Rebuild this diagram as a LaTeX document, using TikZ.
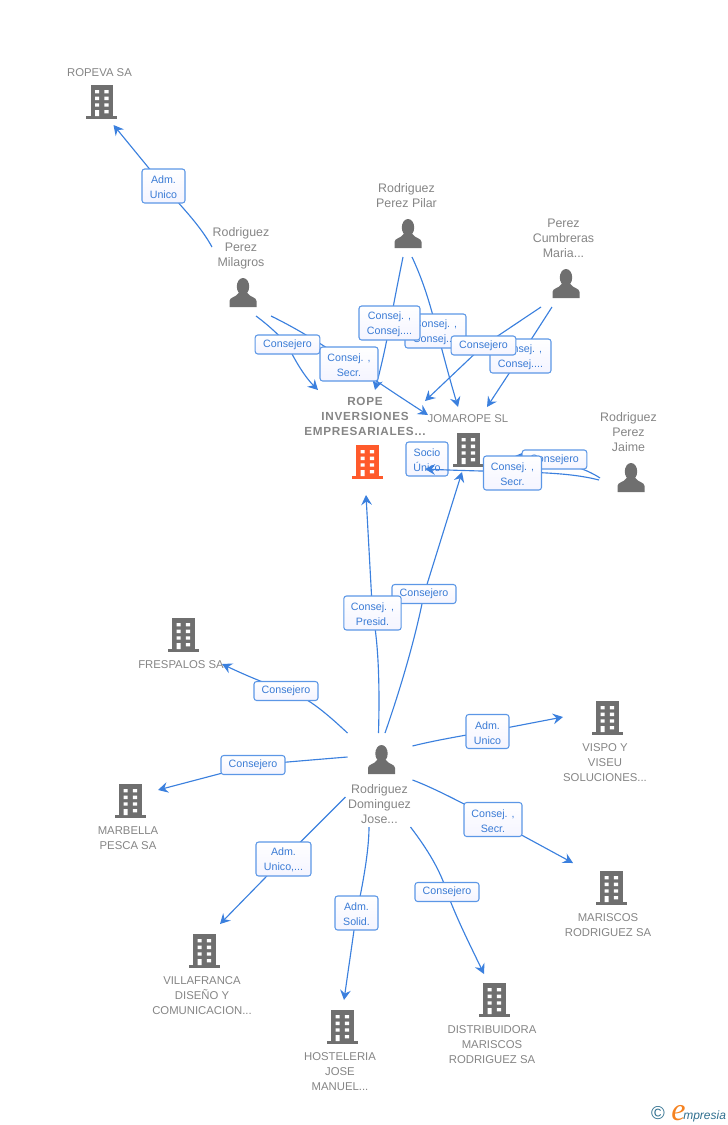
\documentclass[tikz,border=0pt]{standalone}
\usepackage{fontspec}
\setmainfont{Liberation Sans}
\newfontfamily\logofont{Liberation Serif}
\usetikzlibrary{arrows.meta,calc,shadings}
\definecolor{linkblue}{HTML}{3B80DE}
\definecolor{labelblue}{HTML}{3A7BD5}
\definecolor{boxedge}{HTML}{5C97E6}
\definecolor{namegrey}{HTML}{858585}
\definecolor{icongrey}{HTML}{6F6F6F}
\definecolor{mainorange}{HTML}{FF5A2B}
\definecolor{logoteal}{HTML}{2F6F8F}
\definecolor{logoorange}{HTML}{F58220}
\newcommand\topstrut{\rule{0pt}{7.6pt}}
\tikzset{
  x=0.75pt,y=-0.75pt,
  link/.style={draw=linkblue,line width=0.85pt,-{Stealth[length=7.5pt,width=8pt,inset=2.6pt]}},
  lbl/.style={draw=boxedge,line width=0.8pt,rounded corners=2pt,top color=white,bottom color=white!93!blue!60!white,
     text=labelblue,align=center,inner sep=0pt,font=\fontsize{8}{11.25}\selectfont},
  one/.style={lbl,minimum height=14.25pt},
  two/.style={lbl,minimum height=25.5pt},
  co/.style={text=namegrey,align=center,inner sep=0pt,font=\fontsize{8.5}{11.25}\selectfont},
  pn/.style={text=namegrey,align=center,inner sep=0pt,font=\fontsize{9.3}{11.25}\selectfont},
  icon/.style={inner sep=0pt,minimum width=23pt,minimum height=25pt},
  bldg/.pic={
    \fill (-11,-17) rectangle (11.5,15);
    \fill (-15.5,14) rectangle (15.5,17);
    \fill[white] (-6.5,-12) rectangle (-2.3,-8.7) (2.8,-12) rectangle (7,-8.7)
      (-6.5,-5.5) rectangle (-2.3,-2) (2.8,-5.5) rectangle (7,-2)
      (-6.5,1.3) rectangle (-2.3,4.7) (2.8,1.3) rectangle (7,4.7)
      (-6.5,8) rectangle (-2.3,14) (2.8,8) rectangle (7,11.3);
  },
  pers/.pic={
    \fill (0,-8.5) ellipse [x radius=6.2,y radius=8.5];
    \fill (-13.5,12) -- (13.5,12) -- (13.5,6) .. controls (13.5,2) and (7,2.5) .. (4.5,-2) -- (-4.5,-2) .. controls (-7,2.5) and (-13.5,2) .. (-13.5,6) -- cycle;
  }
}
\begin{document}
\begin{tikzpicture}
\useasboundingbox (0,0) rectangle (728,1125);
% icons
\node[icon] (ropeva) at (101.5,102) {}; \pic[icongrey] at (ropeva) {bldg};
\node[icon] (rope) at (367,462) {}; \pic[mainorange] at (rope) {bldg};
\node[icon] (joma) at (468,450) {}; \pic[icongrey] at (joma) {bldg};
\node[icon] (fres) at (183,635) {}; \pic[icongrey] at (fres) {bldg};
\node[icon] (vispo) at (607,718) {}; \pic[icongrey] at (vispo) {bldg};
\node[icon] (marb) at (130,801) {}; \pic[icongrey] at (marb) {bldg};
\node[icon] (maris) at (611,888) {}; \pic[icongrey] at (maris) {bldg};
\node[icon] (villa) at (204,951) {}; \pic[icongrey] at (villa) {bldg};
\node[icon] (host) at (342,1027) {}; \pic[icongrey] at (host) {bldg};
\node[icon] (dist) at (494,1000) {}; \pic[icongrey] at (dist) {bldg};
\node[icon] (mila) at (243,295) {}; \pic[icongrey] at (mila) {pers};
\node[icon] (pilar) at (408,236) {}; \pic[icongrey] at (pilar) {pers};
\node[icon] (maria) at (566,286) {}; \pic[icongrey] at (maria) {pers};
\node[icon] (jaime) at (631,480) {}; \pic[icongrey] at (jaime) {pers};
\node[icon] (jose) at (381.5,762) {}; \pic[icongrey] at (jose) {pers};
% names
\node[co] (t1) at (99.5,73) {ROPEVA SA};
\node[co,font=\fontsize{8.8}{11.25}\selectfont\bfseries\addfontfeature{LetterSpace=6}] (t2) at (365,416.5) {ROPE\\INVERSIONES\\EMPRESARIALES...};
\node[co] (t3) at (468,419) {JOMAROPE SL};
\node[pn] (t4) at (628.5,432.5) {Rodriguez\\Perez\\Jaime};
\node[pn] (t5) at (406.5,196) {Rodriguez\\Perez Pilar};
\node[pn] (t6) at (563.5,238.5) {Perez\\Cumbreras\\Maria...};
\node[pn] (t7) at (241,248) {Rodriguez\\Perez\\Milagros};
\node[co] (t8) at (181,665) {FRESPALOS SA};
\node[co] (t9) at (605,763) {VISPO Y\\VISEU\\SOLUCIONES...};
\node[pn] (t10) at (379.5,804.5) {Rodriguez\\Dominguez\\Jose...};
\node[co] (t11) at (128,838.5) {MARBELLA\\PESCA SA};
\node[co] (t12) at (608,925.5) {MARISCOS\\RODRIGUEZ SA};
\node[co] (t13) at (202,996) {VILLAFRANCA\\DISEÑO Y\\COMUNICACION...};
\node[co] (t14) at (340,1072) {HOSTELERIA\\JOSE\\MANUEL...};
\node[co] (t15) at (492,1045) {DISTRIBUIDORA\\MARISCOS\\RODRIGUEZ SA};
% label coordinates
\coordinate (aU) at (163.5,186);
\coordinate (c1) at (287.5,344.5);
\coordinate (cS) at (349,364);
\coordinate (cC1) at (389.5,323);
\coordinate (cC2) at (435.5,331);
\coordinate (c2) at (483.5,345.5);
\coordinate (cC3) at (520.5,356);
\coordinate (sU) at (427,459);
\coordinate (c3) at (554.5,459.5);
\coordinate (cS2) at (512.5,473);
\coordinate (c4) at (424,594);
\coordinate (cP) at (372.5,613);
\coordinate (c5) at (286,691);
\coordinate (c6) at (253,765);
\coordinate (aU2) at (487.5,731.5);
\coordinate (cS3) at (493,819.5);
\coordinate (aU3) at (283.5,859);
\coordinate (aS) at (356.5,913);
\coordinate (c7) at (447,892);
% connectors
\draw[link] ($(mila)+(-31,-48)$) .. controls (200,225) and (180,205) .. (aU) -- ($(ropeva)+(12,23)$);
\draw[link] ($(mila)+(13,21)$) .. controls (275,330) and (c1) .. (c1) .. controls (292,355) and (303,375) .. ($(rope)+(-49,-72)$);
\draw[link] ($(mila)+(28,21)$) .. controls (320,340) and (cS) .. ($(rope)+(61,-47)$);
\draw[link] ($(pilar)+(-5,21)$) .. controls (cC1) and (388,340) .. ($(rope)+(8,-72)$);
\draw[link] ($(pilar)+(4,21)$) .. controls (432,300) and (cC2) .. ($(joma)+(-10,-43)$);
\draw[link] ($(maria)+(-25,21)$) -- (c2) -- ($(rope)+(58,-61)$);
\draw[link] ($(maria)+(-14,21)$) -- (cC3) -- ($(joma)+(19,-43)$);
\node[two,minimum width=31.5pt] (nsU) at (sU) {\topstrut Socio\\Único};
\draw[link] ($(jaime)+(-32,0)$) .. controls (560,470) and (cS2) .. ($(nsU)+(-2,10)$);
\draw[link] ($(jaime)+(-31,-2)$) .. controls (585,468) and (560,460) .. ($(joma)+(47,6)$);
\draw[link] ($(jose)+(-3,-29)$) .. controls (380,680) and (378,640) .. (cP) -- ($(rope)+(-1,33)$);
\draw[link] ($(jose)+(3.5,-29)$) .. controls (400,690) and (415,640) .. (c4) -- ($(joma)+(-6,22)$);
\draw[link] ($(jose)+(-34,-29)$) .. controls (325,712) and (305,695) .. (c5) .. controls (262,682) and (245,675) .. ($(fres)+(39,29)$);
\draw[link] ($(jose)+(-34,-5)$) .. controls (310,760) and (c6) .. (c6) -- ($(marb)+(28,-11)$);
\draw[link] ($(jose)+(31,-16)$) .. controls (440,739) and (aU2) .. (aU2) -- ($(vispo)+(-44,-1)$);
\draw[link] ($(jose)+(31,18)$) .. controls (440,790) and (cS3) .. (cS3) -- ($(maris)+(-38,-25)$);
\draw[link] ($(jose)+(-36,35)$) -- (aU3) -- ($(villa)+(16,-27)$);
\draw[link] ($(jose)+(-12.5,65)$) .. controls (369,860) and (aS) .. (aS) -- ($(host)+(2,-27)$);
\draw[link] ($(jose)+(29,65)$) .. controls (428,850) and (440,870) .. (c7) .. controls (455,915) and (470,945) .. ($(dist)+(-10,-26)$);
% labels
\node[two,minimum width=32.25pt] (n1) at (aU) {\topstrut Adm.\\Unico};
\node[one,minimum width=48.5pt] (n2) at (c1) {Consejero};
\node[two,minimum width=43.5pt] (n3) at (cS) {\topstrut Consej. ,\\Secr.};
\node[two,minimum width=45.75pt] (n5) at (cC2) {\topstrut Consej. ,\\Consej....};
\node[two,minimum width=45.75pt] (n4) at (cC1) {\topstrut Consej. ,\\Consej....};
\node[two,minimum width=45.75pt] (n7) at (cC3) {\topstrut Consej. ,\\Consej....};
\node[one,minimum width=48.5pt] (n6) at (c2) {Consejero};
\node[one,minimum width=48.5pt] (n8) at (c3) {Consejero};
\node[two,minimum width=43.5pt] (n9) at (cS2) {\topstrut Consej. ,\\Secr.};
\node[one,minimum width=48pt] (n10) at (c4) {Consejero};
\node[two,minimum width=43pt] (n11) at (cP) {\topstrut Consej. ,\\Presid.};
\node[one,minimum width=48pt] (n12) at (c5) {Consejero};
\node[one,minimum width=48pt] (n13) at (c6) {Consejero};
\node[two,minimum width=32.25pt] (n14) at (aU2) {\topstrut Adm.\\Unico};
\node[two,minimum width=43.5pt] (n15) at (cS3) {\topstrut Consej. ,\\Secr.};
\node[two,minimum width=41.25pt] (n16) at (aU3) {\topstrut Adm.\\Unico,...};
\node[two,minimum width=32.25pt] (n17) at (aS) {\topstrut Adm.\\Solid.};
\node[one,minimum width=48pt] (n18) at (c7) {Consejero};
% logo
\node[text=logoteal,inner sep=0pt,font=\fontsize{14}{14}\selectfont] (lc) at (658,1113.5) {©};
\node[text=logoorange,inner sep=0pt,anchor=base,font=\logofont\itshape\fontsize{24}{24}\selectfont] (le) at (678.5,1120) {e};
\node[text=logoteal,inner sep=0pt,anchor=base west,font=\itshape\fontsize{9}{12}\selectfont] (lm) at (683,1119) {mpresia};
\end{tikzpicture}
\end{document}
